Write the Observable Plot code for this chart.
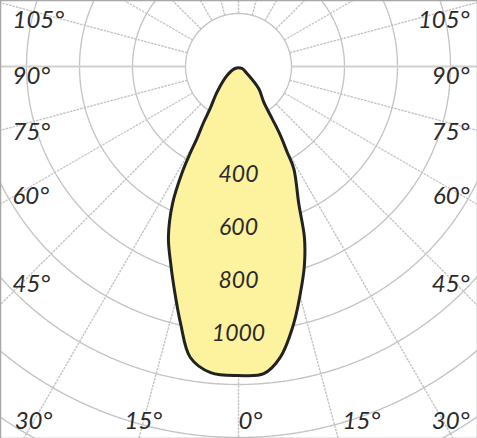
<!DOCTYPE html>
<html>
<head>
<meta charset="utf-8">
<script src="https://cdn.jsdelivr.net/npm/d3@7"></script>
<script src="https://cdn.jsdelivr.net/npm/@observablehq/plot@0.6"></script>
<style>
  html, body { margin: 0; padding: 0; background: #fff; }
  #chart svg { display: block; }
</style>
</head>
<body>
<div id="chart"></div>
<script>
// Luminous intensity curve (cd), angle in degrees from nadir (negative = left)
const curveAngles    = [-60, -52, -40, -34, -32, -30, -29, -28, -25.7, -22.3, -19, -16.7, -12.7, -9.4, -5.2, 0, 4.7, 8.2, 12.1, 16.3, 18.5, 21.1, 23.7, 28.4, 29.6, 31.3, 32.8, 35.3, 42.3, 50, 60];
const curveIntensity = [15, 54, 126, 191, 248, 314, 385, 452, 574, 697, 786, 855, 994, 1113, 1160, 1166, 1163, 1108, 993, 854, 785, 691, 566, 439, 372, 305, 235, 165, 114, 43, 15];

// Polar grid
const ringValues = [200, 400, 600, 800, 1000, 1200, 1400, 1600, 1800];
const rayAngles = d3.range(0, 360, 15);
const valueLabels = [400, 600, 800, 1000];
const sideTicks = [45, 60, 75, 90, 105];
const bottomTicks = [-30, -15, 0, 15, 30];

// Layout
const W = 477, H = 438, cx = 238, cy = 66, k = 0.265; // px per cd
const rad = (a) => a * Math.PI / 180;
const pX = (I, a) => I * Math.sin(rad(a));
const pY = (I, a) => -I * Math.cos(rad(a));
const fromPx = (px, py) => ({x: (px - cx) / k, y: -(py - cy) / k});

const curve = curveAngles.map((a, i) => ({x: pX(curveIntensity[i], a), y: pY(curveIntensity[i], a)}));

const rings = ringValues.flatMap(v => d3.range(0, 361, 2).map(a => ({ring: v, x: pX(v, a), y: pY(v, a)})));
const rays = rayAngles.map(a => ({a, x1: pX(200, a), y1: pY(200, a), x2: pX(2200, a), y2: pY(2200, a)}));

// angle tick labels placed where each ray meets the label band
const tickLabels = [];
for (const a of sideTicks) {
  const cot = Math.cos(rad(a)) / Math.sin(rad(a));
  const py = cy + 208 * cot + 10;
  tickLabels.push({...fromPx(12, py), text: a + "°", anchor: "start"});
  tickLabels.push({...fromPx(469, py), text: a + "°", anchor: "end"});
}
for (const a of bottomTicks) {
  const rx = cx + 355 * Math.tan(rad(a));
  let px = rx, anchor = "middle";
  if (a === 0) { anchor = "start"; }
  else if (a === 15) { px = rx + 9; anchor = "start"; }
  else if (a === 30) { px = 469; anchor = "end"; }
  tickLabels.push({...fromPx(px, 421), text: Math.abs(a) + "°", anchor});
}

const font = "Lato, 'Open Sans', sans-serif";
const gridStroke = "#c4c4c4";
const labelStyle = {x: "x", y: "y", text: "text", fontSize: 24, fontStyle: "italic", fontFamily: font, fill: "#2a2a2a"};

const plot = Plot.plot({
  width: W,
  height: H,
  margin: 0,
  x: {domain: [-cx / k, (W - cx) / k], axis: null},
  y: {domain: [-(H - cy) / k, cy / k], axis: null},
  style: {background: "#fff"},
  marks: [
    Plot.line(rings, {x: "x", y: "y", z: "ring", stroke: gridStroke, strokeWidth: 1.4, strokeDasharray: "2.5,1", clip: true}),
    Plot.link(rays.filter(d => d.a !== 90 && d.a !== 270), {x1: "x1", y1: "y1", x2: "x2", y2: "y2", stroke: gridStroke, strokeWidth: 1.4, strokeDasharray: "2.5,1", clip: true}),
    Plot.link(rays.filter(d => d.a === 90 || d.a === 270), {x1: "x1", y1: "y1", x2: "x2", y2: "y2", stroke: "#d0d0d0", strokeWidth: 2, clip: true}),
    Plot.line(curve, {x: "x", y: "y", curve: "catmull-rom-closed", fill: "#fdf29e", stroke: "#222", strokeWidth: 3, strokeLinejoin: "round"}),
    Plot.text(valueLabels, {x: 0, y: d => -d, text: d => String(d), fontSize: 23, fontStyle: "italic", fontFamily: font, fill: "#2a2a2a", dy: 2}),
    Plot.text(tickLabels.filter(d => d.anchor === "start"), {...labelStyle, textAnchor: "start"}),
    Plot.text(tickLabels.filter(d => d.anchor === "middle"), {...labelStyle, textAnchor: "middle"}),
    Plot.text(tickLabels.filter(d => d.anchor === "end"), {...labelStyle, textAnchor: "end"}),
    Plot.frame({stroke: "#a8a8a8", strokeWidth: 1.5})
  ]
});
document.getElementById("chart").appendChild(plot);
</script>
</body>
</html>
